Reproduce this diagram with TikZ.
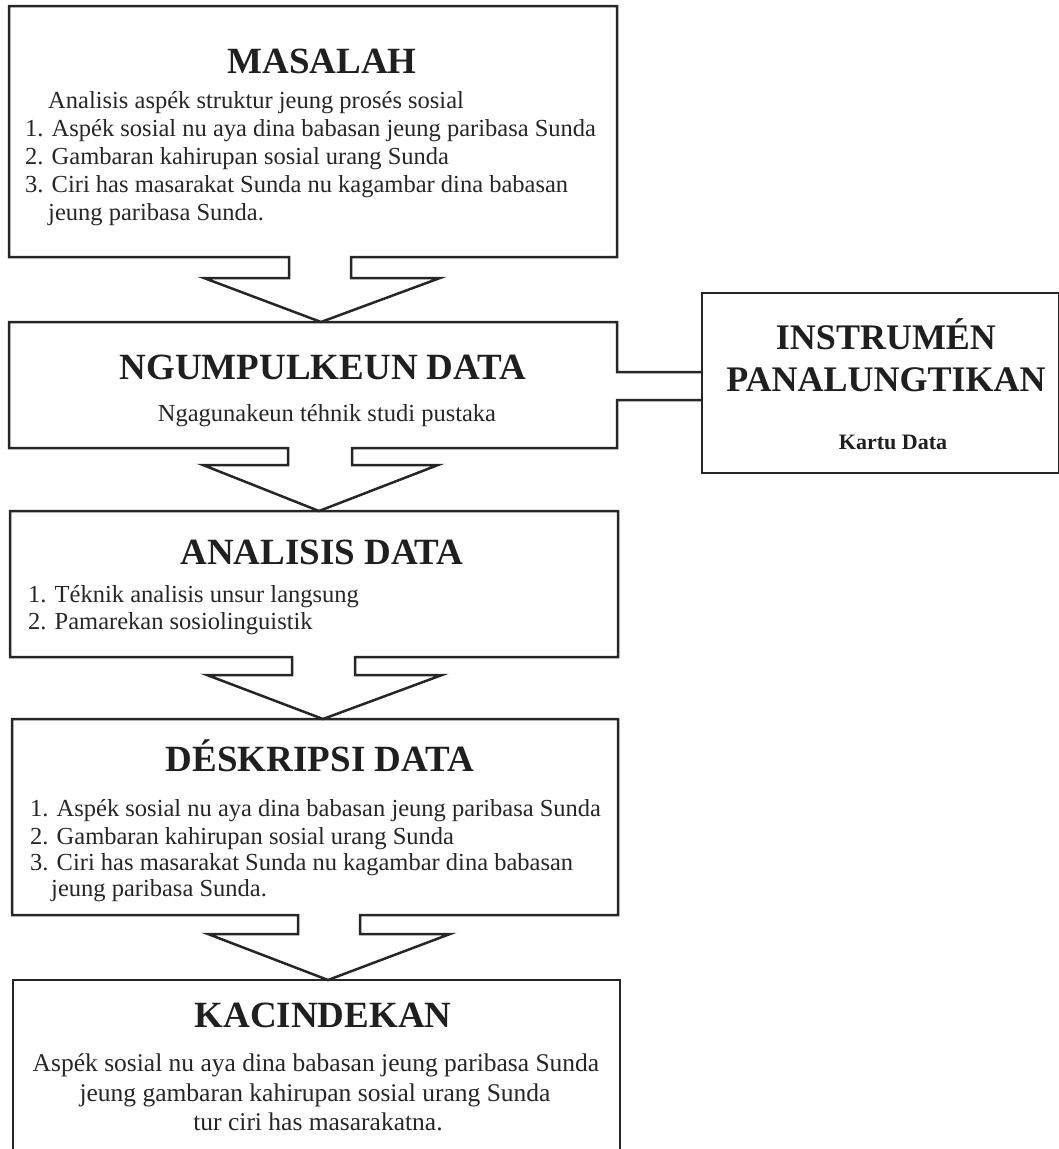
\documentclass[tikz,border=0pt]{standalone}
\usepackage{fontspec}
\setmainfont{Liberation Serif}
\begin{document}
\begin{tikzpicture}[x=1pt,y=-1pt,
  line/.style={draw=black!85, line width=2.5pt, line join=miter},
  ttl/.style={font=\fontsize{37}{40}\selectfont\bfseries, text=black!88, inner sep=0pt, anchor=base},
  ittl/.style={font=\fontsize{36}{40}\selectfont\bfseries, text=black!88, inner sep=0pt, anchor=base},
  body/.style={font=\fontsize{24.5}{28}\selectfont, text=black!85, inner sep=0pt, anchor=base west},
  bodyc/.style={font=\fontsize{25.5}{29}\selectfont, text=black!85, inner sep=0pt, anchor=base},
]
\useasboundingbox (0,0) rectangle (1059,1149);

% Box 1 with arrow 1
\draw[line] (289,257) -- (9,257) -- (9,6) -- (617,6) -- (617,257) -- (351,257) -- (351,278)
  -- (440,278) -- (321,322) -- (204,278) -- (289,278) -- cycle;

% Box 2 with connector to instrument box and arrow 2
\draw[line] (702,400) -- (617,400) -- (617,448) -- (352,448) -- (352,465) -- (438,465)
  -- (319,511) -- (203,465) -- (288,465) -- (288,448) -- (9,448) -- (9,322) -- (617,322)
  -- (617,372) -- (702,372);

% Instrument box
\draw[line] (702,293) rectangle (1059,473);

% Box 3 with arrow 3
\draw[line] (292,657) -- (10,657) -- (10,511) -- (618,511) -- (618,657) -- (355,657) -- (355,675)
  -- (442,675) -- (323,719) -- (207,675) -- (292,675) -- cycle;

% Box 4 with arrow 4
\draw[line] (298,915) -- (12,915) -- (12,719) -- (618,719) -- (618,915) -- (360,915) -- (360,934)
  -- (450,934) -- (328,980) -- (208,934) -- (298,934) -- cycle;

% Box 5 (open at the bottom)
\draw[line] (13,1165) -- (13,980) -- (620,980) -- (620,1165);

% Texts box 1
\node[ttl] (t1) at (322,73) {MASALAH};
\node[body] (m0) at (48,108) {Analisis aspék struktur jeung prosés sosial};
\node[body] (m1) at (25,136) {1. Aspék sosial nu aya dina babasan jeung paribasa Sunda};
\node[body] (m2) at (25,164) {2. Gambaran kahirupan sosial urang Sunda};
\node[body] (m3) at (25,192) {3. Ciri has masarakat Sunda nu kagambar dina babasan};
\node[body] (m4) at (48,220) {jeung paribasa Sunda.};

% Texts box 2
\node[ttl] (t2) at (323,379) {NGUMPULKEUN DATA};
\node[bodyc, font=\fontsize{24.5}{28}\selectfont] (n1) at (327,421) {Ngagunakeun téhnik studi pustaka};

% Instrument box texts
\node[ittl] (i1) at (886,349) {INSTRUMÉN};
\node[ittl] (i2) at (886,391) {PANALUNGTIKAN};
\node[ittl, font=\fontsize{22}{24}\selectfont\bfseries] (i3) at (893,449) {Kartu Data};

% Texts box 3
\node[ttl] (t3) at (322,564) {ANALISIS DATA};
\node[body] (a1) at (28,602) {1. Téknik analisis unsur langsung};
\node[body] (a2) at (28,629) {2. Pamarekan sosiolinguistik};

% Texts box 4
\node[ttl] (t4) at (320,771) {DÉSKRIPSI DATA};
\node[body] (d1) at (30,816) {1. Aspék sosial nu aya dina babasan jeung paribasa Sunda};
\node[body] (d2) at (30,844) {2. Gambaran kahirupan sosial urang Sunda};
\node[body] (d3) at (30,870) {3. Ciri has masarakat Sunda nu kagambar dina babasan};
\node[body] (d4) at (51,896) {jeung paribasa Sunda.};

% Texts box 5
\node[ttl] (t5) at (323,1027) {KACINDEKAN};
\node[bodyc] (k1) at (316,1071) {Aspék sosial nu aya dina babasan jeung paribasa Sunda};
\node[bodyc] (k2) at (315,1101) {jeung gambaran kahirupan sosial urang Sunda};
\node[bodyc] (k3) at (318,1130) {tur ciri has masarakatna.};
\end{tikzpicture}
\end{document}
